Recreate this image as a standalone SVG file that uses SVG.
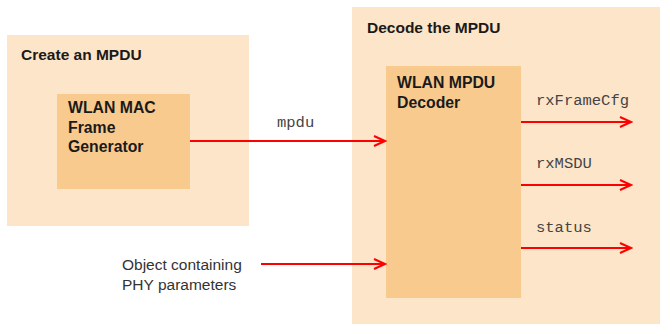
<svg xmlns="http://www.w3.org/2000/svg" width="665" height="324" viewBox="0 0 665 324">
<style>
.outer{fill:#FDE5C9;}
.inner{fill:#F9CA8E;}
.title{font-family:"Liberation Sans",Arial,sans-serif;font-weight:bold;font-size:15.5px;fill:#1a1a1a;}
.blk{font-family:"Liberation Sans",Arial,sans-serif;font-weight:bold;font-size:15.8px;fill:#1a1a1a;}
.lbl{font-family:"Liberation Mono","Courier New",monospace;font-size:15.5px;fill:#444;}
.txt{font-family:"Liberation Sans",Arial,sans-serif;font-size:15.5px;fill:#333;}
.arr{stroke:#FF0000;stroke-width:2;fill:none;marker-end:url(#ah);}
</style>
<defs>
<marker id="ah" markerWidth="14" markerHeight="12" refX="12" refY="6" orient="auto" markerUnits="userSpaceOnUse">
<path d="M1,1 L12,6 L1,11" fill="none" stroke="#FF0000" stroke-width="2"/>
</marker>
</defs>
<rect width="665" height="324" fill="#ffffff"/>
<g id="create">
<rect class="outer" x="7" y="35" width="242" height="191"/>
<text class="title" x="21" y="60">Create an MPDU</text>
</g>
<g id="decode">
<rect class="outer" x="352" y="7" width="308" height="317"/>
<text class="title" x="367" y="33">Decode the MPDU</text>
</g>
<g id="generator">
<rect class="inner" x="57" y="94" width="133" height="95"/>
<text class="blk" x="68" y="113">WLAN MAC</text>
<text class="blk" x="68" y="133">Frame</text>
<text class="blk" x="68" y="152">Generator</text>
</g>
<g id="decoder">
<rect class="inner" x="386" y="66" width="135" height="232"/>
<text class="blk" x="397" y="88">WLAN MPDU</text>
<text class="blk" x="397" y="108">Decoder</text>
</g>
<g id="phy">
<text class="txt" x="122" y="270">Object containing</text>
<text class="txt" x="122" y="290">PHY parameters</text>
</g>
<g id="connectors">
<line class="arr" x1="190" y1="141" x2="385" y2="141"/>
<text class="lbl" x="277" y="127">mpdu</text>
<line class="arr" x1="261" y1="264" x2="385" y2="264"/>
<line class="arr" x1="521" y1="122" x2="631" y2="122"/>
<text class="lbl" x="536" y="105">rxFrameCfg</text>
<line class="arr" x1="521" y1="185" x2="631" y2="185"/>
<text class="lbl" x="536" y="168">rxMSDU</text>
<line class="arr" x1="521" y1="248" x2="631" y2="248"/>
<text class="lbl" x="536" y="232">status</text>
</g>
</svg>
